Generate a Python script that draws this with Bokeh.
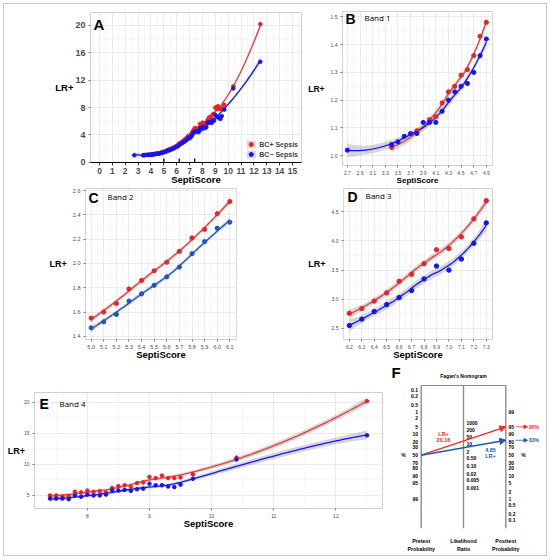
import numpy as np
from bokeh.plotting import figure
from bokeh.models import (Range1d, FixedTicker, Label, Legend, LegendItem, Arrow,
                          NormalHead, NumeralTickFormatter, Spacer)
from bokeh.layouts import column, row
from bokeh.embed import file_html
from bokeh.resources import INLINE
from bokeh.core.properties import value

# ---------------- data ----------------
series_labels = ["BC+ Sepsis", "BC\u2212 Sepsis"]

band1_red_x = [3.4, 3.8, 4.0, 4.1, 4.2, 4.3, 4.4, 4.5, 4.6, 4.7, 4.8, 4.9]
band1_red_y = [1.03, 1.09, 1.13, 1.14, 1.19, 1.23, 1.25, 1.29, 1.31, 1.36, 1.43, 1.48]
band1_blue_x = [2.7, 3.4, 3.5, 3.6, 3.7, 3.8, 3.9, 4.0, 4.1, 4.2, 4.3, 4.4, 4.5, 4.6, 4.7, 4.8, 4.9]
band1_blue_y = [1.02, 1.04, 1.05, 1.07, 1.08, 1.08, 1.12, 1.12, 1.12, 1.16, 1.20, 1.23, 1.25,
                1.26, 1.30, 1.36, 1.42]

band2_x = [5.0, 5.1, 5.2, 5.3, 5.4, 5.5, 5.6, 5.7, 5.8, 5.9, 6.0, 6.1]
band2_red_y = [1.55, 1.60, 1.67, 1.79, 1.86, 1.94, 2.01, 2.10, 2.21, 2.28, 2.41, 2.51]
band2_blue_y = [1.47, 1.52, 1.58, 1.69, 1.75, 1.82, 1.89, 1.97, 2.08, 2.18, 2.29, 2.34]

band3_x = [6.2, 6.3, 6.4, 6.5, 6.6, 6.7, 6.8, 6.9, 7.0, 7.1, 7.2, 7.3]
band3_red_y = [2.76, 2.84, 2.97, 3.11, 3.31, 3.43, 3.61, 3.85, 3.87, 4.07, 4.38, 4.69]
band3_blue_y = [2.55, 2.66, 2.79, 2.91, 3.03, 3.15, 3.35, 3.57, 3.50, 3.69, 3.96, 4.31]

band4_x = [7.4, 7.5, 7.6, 7.7, 7.8, 7.9, 8.0, 8.1, 8.2, 8.3, 8.4, 8.5, 8.6, 8.7, 8.8, 8.9,
           9.0, 9.1, 9.2, 9.3, 9.4, 9.5, 9.7, 10.4, 12.5]
band4_red_y = [5.0, 5.0, 4.8, 4.9, 5.6, 5.5, 5.8, 5.6, 5.7, 5.5, 6.2, 6.5, 6.65, 6.4, 7.0, 7.1,
               8.0, 7.8, 8.2, 7.8, 7.8, 7.9, 8.4, 11.1, 20.2]
band4_blue_y = [4.5, 4.5, 4.5, 4.4, 5.0, 4.8, 5.15, 5.0, 5.0, 5.15, 5.8, 5.8, 5.9, 5.75, 6.0, 6.1,
                6.9, 6.65, 6.65, 6.45, 6.35, 6.75, 7.7, 10.8, 14.7]

a_xticks = [0, 1, 2, 3, 4, 5, 6, 7, 8, 9, 10, 11, 12, 13, 14, 15]
a_yticks = [0, 4, 8, 12, 16, 20]
b_xticks = [2.7, 2.9, 3.1, 3.3, 3.5, 3.7, 3.9, 4.1, 4.3, 4.5, 4.7, 4.9]
b_yticks = [1.0, 1.1, 1.2, 1.3, 1.4, 1.5]
c_xticks = [5.0, 5.1, 5.2, 5.3, 5.4, 5.5, 5.6, 5.7, 5.8, 5.9, 6.0, 6.1]
c_yticks = [1.4, 1.6, 1.8, 2.0, 2.2, 2.4, 2.6]
d_xticks = [6.2, 6.3, 6.4, 6.5, 6.6, 6.7, 6.8, 6.9, 7.0, 7.1, 7.2, 7.3]
d_yticks = [2.5, 3.0, 3.5, 4.0, 4.5]
e_xticks = [8, 9, 10, 11, 12]
e_yticks = [5, 10, 15, 20]

# Fagan's nomogram
pretest_ticks = [0.1, 0.2, 0.5, 1, 2, 5, 10, 20, 30, 50, 70, 80, 90, 95, 99]
pretest_tick_labels = ["0.1", "0.2", "0.5", "1", "2", "5", "10", "20", "30", "50", "70", "80", "90", "95", "99"]
posttest_ticks = [99, 95, 90, 80, 70, 50, 30, 20, 10, 5, 2, 1, 0.5, 0.2, 0.1]
posttest_tick_labels = ["99", "95", "90", "80", "70", "50", "30", "20", "10", "5", "2", "1", "0.5", "0.2", "0.1"]
lr_ticks = [1000, 200, 50, 10, 2, 0.5, 0.1, 0.02, 0.005, 0.001]
lr_tick_labels = ["1000", "200", "50", "10", "2", "0.50", "0.10", "0.02", "0.005", "0.001"]
pretest_prob = 50
lr_values = [20.16, 4.85]
posttest_result_labels = ["95%", "83%"]
axis_titles = [["Pretest", "Probability"], ["Likelihood", "Ratio"], ["Posttest", "Probability"]]

# ---------------- style ----------------
RED = "#e8232a"
RED_LINE = "#ec3a3f"
BLUE = "#1515f0"
BLUE_C = "#1f55bd"
F_RED = "#f0282d"
F_BLUE = "#1f5aa8"
FONT = "Liberation Sans"

ORIGIN = 4  # inner content starts at page pixel 4 (3px spacer + 1px border)


def X(x):
    return x - ORIGIN


def Y(y):
    return y - ORIGIN


def loess(x, y, xs, span=0.75):
    """loess (degree 2, tricube) with kd-tree vertices + cubic Hermite interpolation."""
    x = np.asarray(x, float)
    y = np.asarray(y, float)
    n = len(x)
    q = max(4, int(np.floor(span * n)))

    def rows(x0):
        d = np.abs(x - x0)
        h = max(np.sort(d)[q - 1], 1e-12)
        u = np.clip(d / h, 0, 1)
        w = (1 - u ** 3) ** 3
        M = np.column_stack([np.ones(n), x - x0, (x - x0) ** 2])
        MtW = M.T * w
        C = np.linalg.solve(MtW @ M, MtW)
        return C[0], C[1]

    lo, hi = x.min(), x.max()
    mu = 0.005 * (hi - lo)
    fc = max(1, int(np.floor(n * span * 0.2)))
    verts = {lo - mu, hi + mu}

    def split(pts):
        if len(pts) <= fc:
            return
        m = (len(pts) - 1) // 2
        v = (pts[m] + pts[m + 1]) / 2
        verts.add(v)
        split(pts[:m + 1])
        split(pts[m + 1:])

    split(np.sort(x))
    V = np.array(sorted(verts))
    VR = [rows(v) for v in V]

    def irow(x0):
        k = int(np.clip(np.searchsorted(V, x0) - 1, 0, len(V) - 2))
        a, b = V[k], V[k + 1]
        dx = b - a
        t = (x0 - a) / dx
        h00 = 2 * t ** 3 - 3 * t ** 2 + 1
        h10 = t ** 3 - 2 * t ** 2 + t
        h01 = -2 * t ** 3 + 3 * t ** 2
        h11 = t ** 3 - t ** 2
        return h00 * VR[k][0] + h10 * dx * VR[k][1] + h01 * VR[k + 1][0] + h11 * dx * VR[k + 1][1]

    Ls = np.array([irow(v) for v in xs])
    S = np.array([irow(v) for v in x])
    fit = Ls @ y
    resid = y - S @ y
    dfres = max(1.0, n - np.trace(S))
    sigma = np.sqrt(np.sum(resid ** 2) / dfres)
    se = sigma * np.sqrt(np.sum(Ls ** 2, axis=1))
    return fit, se


def midpoints(t):
    t = np.asarray(t, float)
    step = t[1] - t[0]
    m = list((t[:-1] + t[1:]) / 2)
    return [t[0] - step / 2] + m + [t[-1] + step / 2]


def make_panel(fig_box, frame_ref, xr, yr, xticks, yticks, xfmt, yfmt,
               tick_size, tick_bold=False, xlabel_size=9.5, ylabel_size=9.5,
               ylabel_standoff=3, xlabel_standoff=-3):
    fx0, fy0, fx1, fy1 = fig_box
    L = round(X(frame_ref[0])) - fx0
    R = fx1 - round(X(frame_ref[2]))
    T = round(Y(frame_ref[1])) - fy0
    B = fy1 - round(Y(frame_ref[3]))
    p = figure(width=fx1 - fx0, height=fy1 - fy0, min_border_left=L, min_border_right=R,
               min_border_top=T, min_border_bottom=B, x_range=Range1d(*xr),
               y_range=Range1d(*yr), output_backend="svg", toolbar_location=None,
               title=None)
    p.frame_align = False
    p.background_fill_color = "white"
    p.border_fill_color = "white"
    p.outline_line_color = "#cfcfcf"
    p.outline_line_width = 1
    p.xaxis.ticker = FixedTicker(ticks=xticks, minor_ticks=midpoints(xticks))
    p.yaxis.ticker = FixedTicker(ticks=yticks, minor_ticks=midpoints(yticks))
    p.xaxis.formatter = NumeralTickFormatter(format=xfmt)
    p.yaxis.formatter = NumeralTickFormatter(format=yfmt)
    for ax in (p.xaxis[0], p.yaxis[0]):
        ax.axis_line_color = None
        ax.major_tick_line_color = "#555555"
        ax.major_tick_line_width = 0.8
        ax.major_tick_out = 2
        ax.major_tick_in = 0
        ax.minor_tick_line_color = None
        ax.major_label_text_font = FONT
        ax.major_label_text_font_size = f"{tick_size}px"
        ax.major_label_text_color = "#4d4d4d"
        ax.major_label_text_font_style = "bold" if tick_bold else "normal"
        ax.major_label_standoff = 1
        ax.axis_label_text_font = FONT
        ax.axis_label_text_font_style = "bold"
        ax.axis_label_text_color = "black"
    p.xaxis.axis_label = "SeptiScore"
    p.xaxis.axis_label_text_font_size = f"{xlabel_size}px"
    p.xaxis.axis_label_standoff = xlabel_standoff
    p.yaxis.axis_label = "LR+"
    p.yaxis.axis_label_text_font_size = f"{ylabel_size}px"
    p.yaxis.axis_label_standoff = ylabel_standoff
    try:
        p.yaxis.axis_label_orientation = "horizontal"
    except Exception:
        pass
    p.xgrid.grid_line_color = "#e6e6e6"
    p.ygrid.grid_line_color = "#e6e6e6"
    p.xgrid.grid_line_width = 0.8
    p.ygrid.grid_line_width = 0.8
    p.xgrid.minor_grid_line_color = "#f2f2f2"
    p.ygrid.minor_grid_line_color = "#f2f2f2"
    p.xgrid.minor_grid_line_width = 0.6
    p.ygrid.minor_grid_line_width = 0.6
    return p


def add_label(p, frame_ref, cx, cy, text, size, bold=True, align="left", color="black",
              font=FONT):
    sx = X(cx) - X(frame_ref[0])
    sy = Y(frame_ref[3]) - Y(cy)
    p.add_layout(Label(x=sx, y=sy, x_units="screen", y_units="screen", text=text,
                       text_font=font, text_font_size=f"{size}px",
                       text_font_style="bold" if bold else "normal", text_align=align,
                       text_baseline="middle", text_color=color))


def add_series(p, series, size, span=0.75):
    fits = []
    for (x, y, color, lcolor) in series:
        xa = np.asarray(x, float)
        xs = np.linspace(xa.min(), xa.max(), 120)
        fit, se = loess(x, y, xs, span)
        fits.append((xs, fit, se, lcolor))
    bands, dots = [], []
    for xs, fit, se, lcolor in fits:
        bands.append(p.varea(x=xs, y1=fit - 1.96 * se, y2=fit + 1.96 * se,
                             fill_color="#9c9c9c", fill_alpha=0.4))
    for xs, fit, se, lcolor in fits:
        p.line(xs, fit, line_color=lcolor, line_width=1.3)
    for (x, y, color, lcolor) in series:
        dots.append(p.scatter(x, y, size=size, fill_color=color, line_color=color))
    return bands, dots


# ---------------- layout boxes (content coordinates) ----------------
H1, H2, H3 = 183, 175, 193
r1, r2, r3 = 0, H1, H1 + H2
W_LEFT = 301
W_E = 380
TOTAL_W = 542

# ---------------- Panel A ----------------
A_FRAME = (90, 12, 301, 162.5)
pa = make_panel((0, r1, W_LEFT, r1 + H1), A_FRAME, (-0.7, 15.7), (-0.03, 21.9),
                a_xticks, a_yticks, "0", "0", 8.5, tick_bold=True, ylabel_standoff=-1)
pa.xaxis.axis_line_color = "black"
pa.xaxis.axis_line_width = 1.2
pa.xaxis.major_tick_line_color = "black"
pa.xaxis.major_tick_out = 3
pa.yaxis.major_label_text_font_size = "9px"
all_red_x = band1_red_x + band2_x + band3_x + band4_x
all_red_y = band1_red_y + band2_red_y + band3_red_y + band4_red_y
all_blue_x = band1_blue_x + band2_x + band3_x + band4_x
all_blue_y = band1_blue_y + band2_blue_y + band3_blue_y + band4_blue_y
a_bands, a_dots = add_series(pa, [(all_red_x, all_red_y, RED, RED_LINE),
                                  (all_blue_x, all_blue_y, BLUE, BLUE)], size=3.6)
band_starts = [band2_x[0], band3_x[0], band4_x[0]]
pa.segment(x0=band_starts, y0=0, x1=band_starts, y1=0.55, line_color="black", line_width=1.3)
legend = Legend(items=[LegendItem(label=series_labels[0], renderers=[a_bands[0], a_dots[0]]),
                       LegendItem(label=series_labels[1], renderers=[a_bands[1], a_dots[1]])],
                location="bottom_right", glyph_width=11, glyph_height=10,
                label_text_font=FONT, label_text_font_size="7px",
                label_text_font_style="bold", label_standoff=3, label_height=10,
                spacing=0, padding=1, margin=3, border_line_color=None,
                background_fill_color="white", background_fill_alpha=1.0)
pa.add_layout(legend)
add_label(pa, A_FRAME, 93, 24, "A", 15)

# ---------------- Panel B ----------------
B_FRAME = (337, 11, 492, 169)
pb = make_panel((W_LEFT, r1, TOTAL_W, r1 + H1), B_FRAME, (2.623, 4.997), (0.965, 1.519),
                b_xticks, b_yticks, "0.0", "0.0", 5, xlabel_size=8, ylabel_size=8.5,
                xlabel_standoff=-2)
add_series(pb, [(band1_red_x, band1_red_y, RED, RED_LINE),
                (band1_blue_x, band1_blue_y, BLUE, BLUE)], size=4.2)
add_label(pb, B_FRAME, 340, 22, "B", 14)
add_label(pb, B_FRAME, 359, 21, "Band 1", 8, bold=False, font="Open Sans")

# ---------------- Panel C ----------------
C_FRAME = (85, 188, 236, 343)
pc = make_panel((0, r2, W_LEFT, r2 + H2), C_FRAME, (4.955, 6.153), (1.374, 2.617),
                c_xticks, c_yticks, "0.0", "0.0", 5.5, ylabel_size=9)
add_series(pc, [(band2_x, band2_red_y, RED, RED_LINE),
                (band2_x, band2_blue_y, BLUE_C, BLUE_C)], size=4.2)
add_label(pc, C_FRAME, 88, 201, "C", 14)
add_label(pc, C_FRAME, 107, 200, "Band 2", 8, bold=False, font="Open Sans")

# ---------------- Panel D ----------------
D_FRAME = (340, 188, 492, 343)
pd_ = make_panel((W_LEFT, r2, TOTAL_W, r2 + H2), D_FRAME, (6.153, 7.35), (2.311, 4.9),
                 d_xticks, d_yticks, "0.0", "0.0", 5, ylabel_size=9)
add_series(pd_, [(band3_x, band3_red_y, RED, RED_LINE),
                 (band3_x, band3_blue_y, BLUE, BLUE)], size=4.4)
add_label(pd_, D_FRAME, 344, 200, "D", 14)
add_label(pd_, D_FRAME, 362, 199, "Band 3", 8, bold=False, font="Open Sans")

# ---------------- Panel E ----------------
E_FRAME = (28, 392, 382, 508)
pe = make_panel((0, r3, W_E, r3 + H3), E_FRAME, (7.15, 12.75), (2.9, 21.6),
                e_xticks, e_yticks, "0", "0", 5, ylabel_size=9, ylabel_standoff=-4,
                xlabel_standoff=-3)
add_series(pe, [(band4_x, band4_red_y, RED, RED_LINE),
                (band4_x, band4_blue_y, BLUE, BLUE)], size=3.6)
add_label(pe, E_FRAME, 33, 403, "E", 14)
add_label(pe, E_FRAME, 53, 403, "Band 4", 8, bold=False, font="Open Sans")

# ---------------- Panel F: Fagan's nomogram ----------------
PRE_X, MID_Y, PXU, PYU = 420.7, 454.7, 84.6, 9.45


def fx(xr):
    return (xr - PRE_X) / PXU


def fy(yr):
    return (MID_Y - yr) / PYU


f_left_ref, f_right_ref = W_E + ORIGIN, TOTAL_W + ORIGIN
f_top_ref, f_bot_ref = r3 + ORIGIN, r3 + H3 + ORIGIN
pf = figure(width=TOTAL_W - W_E, height=H3, min_border=0, title=None,
            x_axis_location=None, y_axis_location=None,
            x_range=Range1d(fx(f_left_ref), fx(f_right_ref)),
            y_range=Range1d(fy(f_bot_ref), fy(f_top_ref)),
            output_backend="svg", toolbar_location=None)
pf.frame_align = False
pf.grid.visible = False
pf.outline_line_color = None
pf.background_fill_color = "white"
pf.border_fill_color = "white"


def logit(pp):
    pp = np.asarray(pp, float)
    return np.log(pp / (1 - pp))


def ftext(xs, ys, texts, size, color="black", align="left", bold=True):
    pf.text(x=list(xs), y=list(ys), text=list(texts), text_font=value(FONT),
            text_font_size=f"{size}px", text_font_style="bold" if bold else "normal",
            text_color=color, text_align=align, text_baseline="middle")


scale_x = [0.0, 0.5, 1.0]
top_y, bot_y = fy(385), fy(527.7)
pf.segment(x0=scale_x, y0=top_y, x1=scale_x, y1=bot_y, line_color="#8c8c8c", line_width=1.4)
pf.segment(x0=[scale_x[0]], y0=top_y, x1=[scale_x[-1]], y1=top_y, line_color="#8c8c8c",
           line_width=1.2)

pre_y = -logit(np.array(pretest_ticks) / 100)
post_y = logit(np.array(posttest_ticks) / 100)
lr_y = np.log(np.array(lr_ticks)) / 2
ftext([fx(417.5)] * len(pre_y), pre_y, pretest_tick_labels, 5, align="right")
ftext([fx(508)] * len(post_y), post_y, posttest_tick_labels, 5, align="left")
ftext([fx(466)] * len(lr_y), lr_y, lr_tick_labels, 5, align="left")
ftext([fx(403), fx(523)], [0, 0], ["%", "%"], 5, align="center")
for i, (a, b) in enumerate(axis_titles):
    ftext([scale_x[i]] * 2, [fy(540.7), fy(548)], [a, b], 5.3, align="center")
ftext([fx(463)], [fy(375)], ["Fagan's Nomogram"], 5, align="center")
ftext([fx(391)], [fy(372)], ["F"], 15, align="left")

pre_p = pretest_prob / 100
pre_odds = pre_p / (1 - pre_p)
colors_f = [F_RED, F_BLUE]
for i, lr in enumerate(lr_values):
    post_odds = pre_odds * lr
    post_p = post_odds / (1 + post_odds)
    y0 = float(-logit(pre_p))
    y1 = float(logit(post_p))
    c = colors_f[i]
    pf.add_layout(Arrow(end=NormalHead(size=6, fill_color=c, line_color=c),
                        x_start=scale_x[0], y_start=y0, x_end=scale_x[2], y_end=y1,
                        line_color=c, line_width=1.4))
    pf.add_layout(Arrow(end=NormalHead(size=3.5, fill_color=c, line_color=c),
                        x_start=fx(515), y_start=y1, x_end=fx(527), y_end=y1,
                        line_color=c, line_width=0.8))
    ftext([fx(528.5)], [y1], [posttest_result_labels[i]], 5, color=c, align="left")

ftext([fx(443), fx(443)], [fy(433), fy(439.5)], ["LR+", f"{lr_values[0]:.2f}"], 5.5,
      color=F_RED, align="center")
ftext([fx(490), fx(490)], [fy(449), fy(455.7)], [f"{lr_values[1]:.2f}", "LR+"], 5.5,
      color=F_BLUE, align="center")

inner = column(row(pa, pb), row(pc, pd_), row(pe, pf),
               styles={"border": "1px solid #c8c8c8", "background-color": "white"})
layout = column(Spacer(height=3, width=10), row(Spacer(width=3, height=10), inner))

open("out.html", "w").write(file_html(layout, INLINE))
